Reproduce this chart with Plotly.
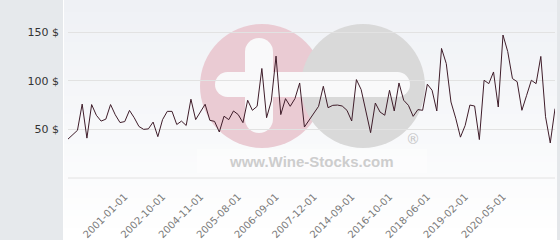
import plotly.graph_objects as go

prices = [40, 44.5, 49, 76, 41, 75.5, 64.5, 58.5, 60.5, 75.5,
          65, 57, 58, 69.5, 62, 53, 50, 50.5, 57.5, 42.5,
          60, 68.5, 68.5, 55, 58.5, 54, 81, 60, 67.5, 75.8,
          59.3, 58.2, 47.3, 63.5, 60, 68.9, 65.2, 56.9, 79.9, 69.6,
          73.7, 112.6, 62, 79.2, 125.3, 65.2, 81.6, 73.7, 81.6, 97.7,
          52.4, 59.3, 66.2, 73.7, 94.3, 72.3, 74.7, 75, 74, 69.6,
          58.6, 101.2, 90.9, 69.6, 46.6, 77.1, 67.8, 64.5, 90.2, 68.9,
          97.7, 79.9, 74.7, 63.4, 70.3, 69.6, 96.4, 90.2, 68.9, 133.2,
          117.7, 78.1, 61.5, 42, 54, 75, 74, 39.5, 100.5, 97,
          109, 73, 147, 130, 102.2, 99, 69.6, 85, 100.5, 97,
          125, 63, 36, 71.3]

tick_positions = [12, 20, 28, 36, 44, 52, 60, 68, 76, 84, 92]
tick_labels = ["2001-01-01", "2002-10-01", "2004-11-01", "2005-08-01",
               "2006-09-01", "2007-12-01", "2014-09-01", "2016-10-01",
               "2018-06-01", "2019-02-01", "2020-05-01"]

y_ticks = [50, 100, 150]
y_tick_labels = ["50 $", "100 $", "150 $"]

W, H = 560, 240
L, R, T, B = 68, 555, 0, 178


def px(x):
    return (x - L) / (R - L)


def py(y):
    return (B - y) / (B - T)


shapes = []


def rect(x0, y0, x1, y1, color):
    shapes.append(dict(type="rect", xref="paper", yref="paper",
                       x0=px(x0), x1=px(x1), y0=py(y1), y1=py(y0),
                       fillcolor=color, line=dict(width=0), layer="below"))


def circ(cx, cy, r, color):
    shapes.append(dict(type="circle", xref="paper", yref="paper",
                       x0=px(cx - r), x1=px(cx + r), y0=py(cy + r), y1=py(cy - r),
                       fillcolor=color, line=dict(width=0), layer="below"))


# gradient plot panel background
top = (239, 241, 245)
bot = (255, 255, 255)
n = 40
for i in range(n):
    t = i / (n - 1)
    c = tuple(round(top[k] + (bot[k] - top[k]) * t) for k in range(3))
    y0 = 240 * i / n
    y1 = 240 * (i + 1) / n + 0.5
    rect(64, y0, 557, y1, "rgb(%d,%d,%d)" % c)

# left gray panel and right border
rect(0, 0, 63, 240, "#e6e9ec")
rect(557, 0, 560, 240, "#e4e7ea")

# watermark
circ(262, 86, 62, "#eacbd3")
circ(363, 86, 62, "#d9d9d9")
# vertical bar of plus
rect(245, 52, 273, 119, "#f9f9fa")
circ(259, 52, 14, "#f9f9fa")
circ(259, 119, 14, "#f9f9fa")
# horizontal bar
rect(227.5, 72, 397.5, 97, "#f9f9fa")
circ(227.5, 84.5, 12.5, "#f9f9fa")
circ(397.5, 84.5, 12.5, "#f9f9fa")
# text box
rect(197, 149, 427, 173, "rgba(255,255,255,0.4)")

# baseline
shapes.append(dict(type="line", xref="paper", yref="paper",
                   x0=0, x1=1, y0=0, y1=0,
                   line=dict(color="#e2e2e2", width=1), layer="below"))

annotations = [
    dict(text="<b>www.Wine-Stocks.com</b>", xref="paper", yref="paper",
         x=px(311.5), y=py(161), xanchor="center", yanchor="middle",
         showarrow=False, font=dict(family="Liberation Sans, Arial", size=15, color="#cdcdcd")),
    dict(text="®", xref="paper", yref="paper",
         x=px(413), y=py(139), xanchor="center", yanchor="middle",
         showarrow=False, font=dict(family="DejaVu Sans", size=14, color="#c6c6c6")),
]

fig = go.Figure()
fig.add_trace(go.Scatter(
    x=list(range(len(prices))), y=prices, mode="lines",
    line=dict(color="#3f1d2a", width=1), hoverinfo="skip", showlegend=False))

fig.update_layout(
    width=W, height=H,
    margin=dict(l=L, r=W - R, t=T, b=H - B, pad=0, autoexpand=False),
    paper_bgcolor="#ffffff", plot_bgcolor="rgba(0,0,0,0)",
    shapes=shapes, annotations=annotations,
    showlegend=False,
    xaxis=dict(range=[0, len(prices) - 1], tickmode="array",
               tickvals=tick_positions, ticktext=tick_labels,
               tickangle=-45, showgrid=False, zeroline=False, showline=False,
               ticks="", tickfont=dict(family="DejaVu Sans", size=10, color="#7a7a7a"),
               ticklabelstandoff=10, automargin=False, fixedrange=True),
    yaxis=dict(range=[0, 183], tickmode="array", tickvals=y_ticks,
               ticktext=y_tick_labels, showgrid=True, gridcolor="#e2e2e2",
               gridwidth=1, zeroline=False, showline=False, ticks="",
               tickfont=dict(family="DejaVu Sans", size=11, color="#333333"),
               ticklabelstandoff=8, automargin=False, fixedrange=True),
)

fig.write_html("out.html")
